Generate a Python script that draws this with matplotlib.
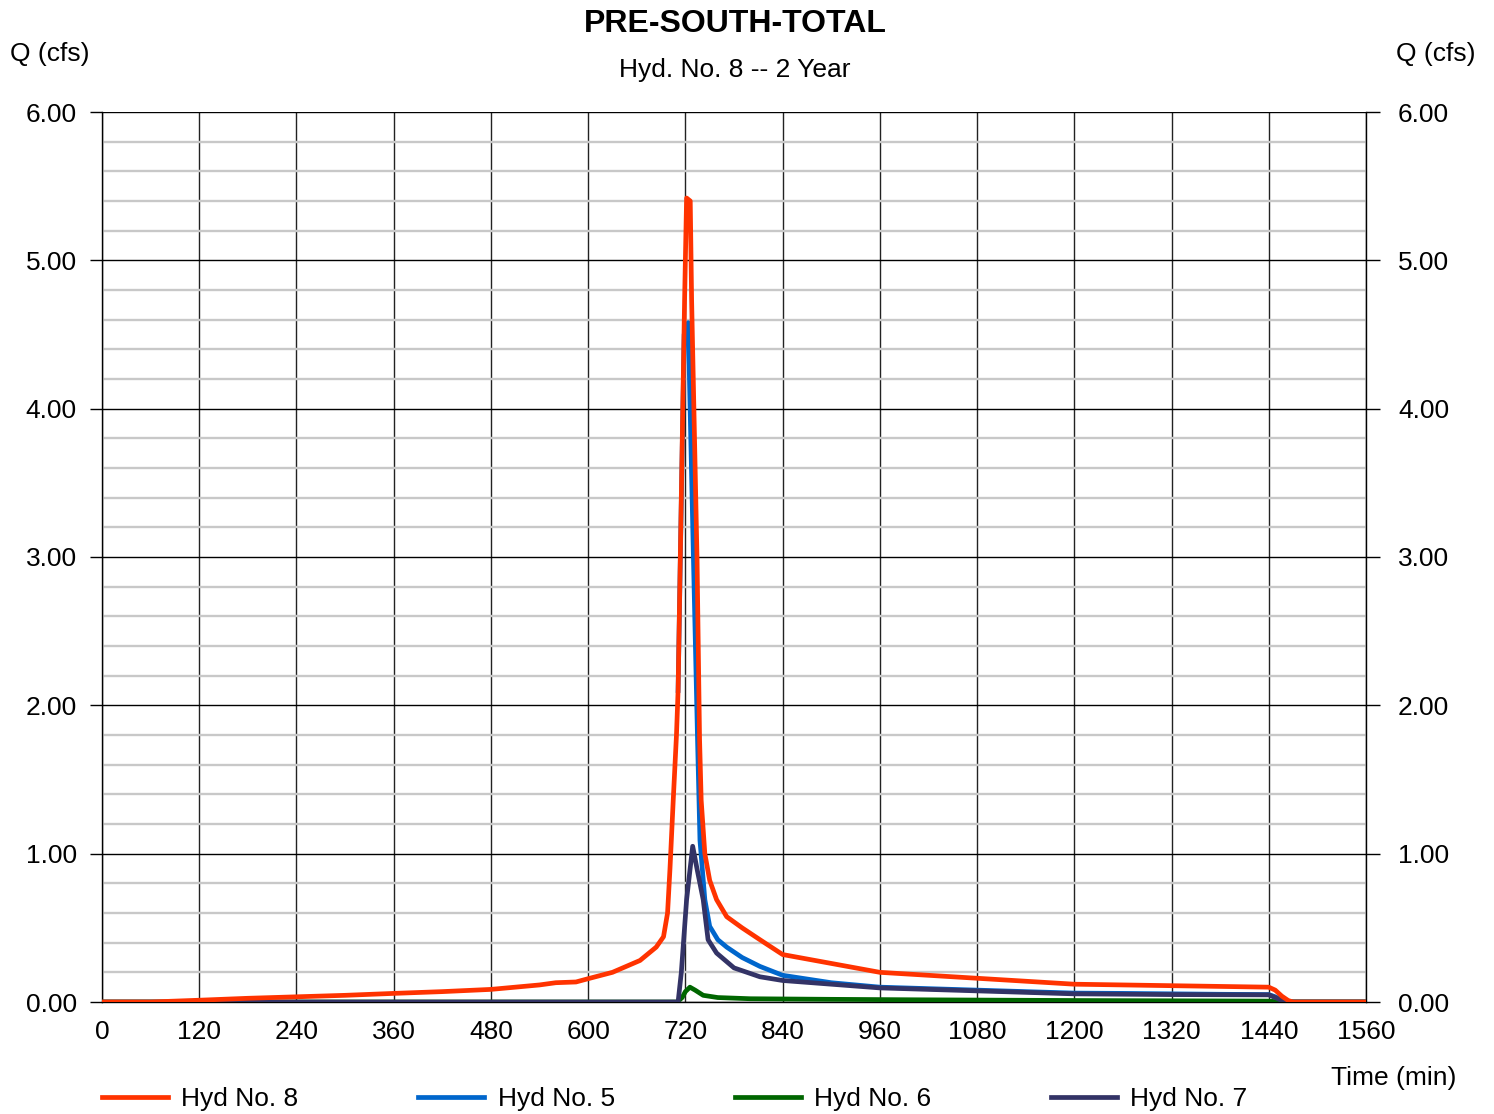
import matplotlib.pyplot as plt
from matplotlib.ticker import MultipleLocator

plt.rcParams['font.family'] = ['Liberation Sans', 'DejaVu Sans']

# Hyd No. 8 (total)
t_hyd8 = [0, 60, 120, 180, 240, 300, 360, 420, 480, 540, 560, 585, 602, 630, 664, 684,
          693, 698, 701, 705, 709, 711, 719, 721.5, 726, 727.7, 734.4, 737.5, 739.5, 744, 750,
          758.5, 771, 790, 812, 840, 870, 900, 960, 1020, 1080, 1140, 1200, 1260, 1320, 1380,
          1440, 1448, 1456, 1464, 1470, 1560]
q_hyd8 = [0, 0, 0.012, 0.025, 0.035, 0.045, 0.058, 0.07, 0.085, 0.115, 0.13, 0.135, 0.16,
          0.20, 0.28, 0.37, 0.44, 0.60, 0.90, 1.36, 1.8, 2.1, 4.73, 5.42, 5.40, 4.73, 2.98,
          1.77, 1.36, 1.0, 0.82, 0.69, 0.575, 0.50, 0.42, 0.32, 0.29, 0.26, 0.20, 0.18, 0.16,
          0.14, 0.12, 0.115, 0.11, 0.105, 0.10, 0.08, 0.04, 0.01, 0, 0]

# Hyd No. 5 (rising limb lies under Hyd No. 8 in the source chart)
t_hyd5 = [711, 718.5, 723.5, 730, 735, 738, 744, 750, 760, 771,
          790, 812, 840, 870, 900, 960, 1020, 1080, 1140, 1200, 1260, 1320, 1380, 1440,
          1448, 1456, 1464, 1470, 1560]
q_hyd5 = [2.1, 4.5, 4.58, 2.98, 1.77, 1.09, 0.69, 0.51, 0.42, 0.37,
          0.30, 0.24, 0.18, 0.155, 0.13, 0.10, 0.09, 0.08, 0.07, 0.06, 0.058, 0.055, 0.052,
          0.05, 0.035, 0.015, 0.003, 0, 0]

# Hyd No. 6
t_hyd6 = [0, 710, 716, 720, 725.6, 732, 742, 760, 800, 900, 1000, 1200, 1440, 1456, 1560]
q_hyd6 = [0, 0, 0.03, 0.07, 0.10, 0.08, 0.045, 0.03, 0.022, 0.018, 0.015, 0.01, 0.006, 0, 0]

# Hyd No. 7
t_hyd7 = [0, 711, 715, 721.5, 729, 735, 742, 748, 758.5, 780, 812, 840, 900, 960, 1080,
          1200, 1320, 1440, 1448, 1456, 1464, 1560]
q_hyd7 = [0, 0, 0.2, 0.69, 1.05, 0.88, 0.69, 0.42, 0.33, 0.23, 0.17, 0.145, 0.12, 0.095,
          0.075, 0.055, 0.05, 0.048, 0.03, 0.01, 0, 0]

x_ticks = list(range(0, 1561, 120))
y_ticks = [0, 1, 2, 3, 4, 5, 6]

fig = plt.figure(figsize=(14.94, 11.14), dpi=100)
ax = fig.add_axes([102 / 1494, 1 - 1002 / 1114, 1264 / 1494, 890 / 1114])

ax.set_xlim(0, 1560)
ax.set_ylim(0, 6)
ax.set_xticks(x_ticks)
ax.set_yticks(y_ticks)
ax.set_yticklabels([f"{v:.2f}" for v in y_ticks])
ax.yaxis.set_minor_locator(MultipleLocator(0.2))

ax.grid(True, which='minor', axis='y', color='#c8c8c8', linewidth=1.7, zorder=0)
ax.grid(True, which='major', axis='y', color='black', linewidth=1.0, zorder=1)
ax.grid(True, which='major', axis='x', color='#222222', linewidth=1.0, zorder=1)
ax.set_axisbelow(True)
for s in ax.spines.values():
    s.set_color('black')
    s.set_linewidth(1.0)
ax.spines['top'].set_visible(False)

ax.tick_params(axis='x', length=0, pad=13, labelsize=19)
ax.tick_params(axis='y', which='major', length=9, width=1, direction='out', pad=9, labelsize=19)
ax.tick_params(axis='y', which='minor', length=0)

ax.plot(t_hyd5, q_hyd5, color='#0066cc', lw=3.4, label='Hyd No. 5', zorder=3)
ax.plot(t_hyd6, q_hyd6, color='#006600', lw=3.4, label='Hyd No. 6', zorder=4)
ax.plot(t_hyd7, q_hyd7, color='#333366', lw=3.4, label='Hyd No. 7', zorder=5)
ax.plot(t_hyd8, q_hyd8, color='#ff3300', lw=3.4, label='Hyd No. 8', zorder=6)

ax2 = ax.twinx()
ax2.set_ylim(0, 6)
ax2.set_yticks(y_ticks)
ax2.set_yticklabels([f"{v:.2f}" for v in y_ticks])
ax2.tick_params(axis='y', length=10, width=1, direction='out', pad=13, labelsize=19)
for s in ax2.spines.values():
    s.set_visible(False)

handles, labels = ax.get_legend_handles_labels()
order = [3, 0, 1, 2]
fig.legend([handles[i] for i in order], [labels[i] for i in order],
           loc='center left', bbox_to_anchor=(102 / 1494, 1 - 1099 / 1114),
           ncol=4, frameon=False, fontsize=19, handlelength=2.5, handletextpad=0.5,
           columnspacing=4.55, borderpad=0, borderaxespad=0)

fig.text(735 / 1494, 1 - 24 / 1114, 'PRE-SOUTH-TOTAL', ha='center', va='center',
         fontsize=23, fontweight='bold')
fig.text(735 / 1494, 1 - 70 / 1114, 'Hyd. No. 8 -- 2 Year', ha='center', va='center', fontsize=19)
fig.text(10 / 1494, 1 - 54 / 1114, 'Q (cfs)', ha='left', va='center', fontsize=19)
fig.text(1476 / 1494, 1 - 54 / 1114, 'Q (cfs)', ha='right', va='center', fontsize=19)
fig.text(1456 / 1494, 1 - 1078 / 1114, 'Time (min)', ha='right', va='center', fontsize=19)

fig.savefig('out.png', dpi=100)
